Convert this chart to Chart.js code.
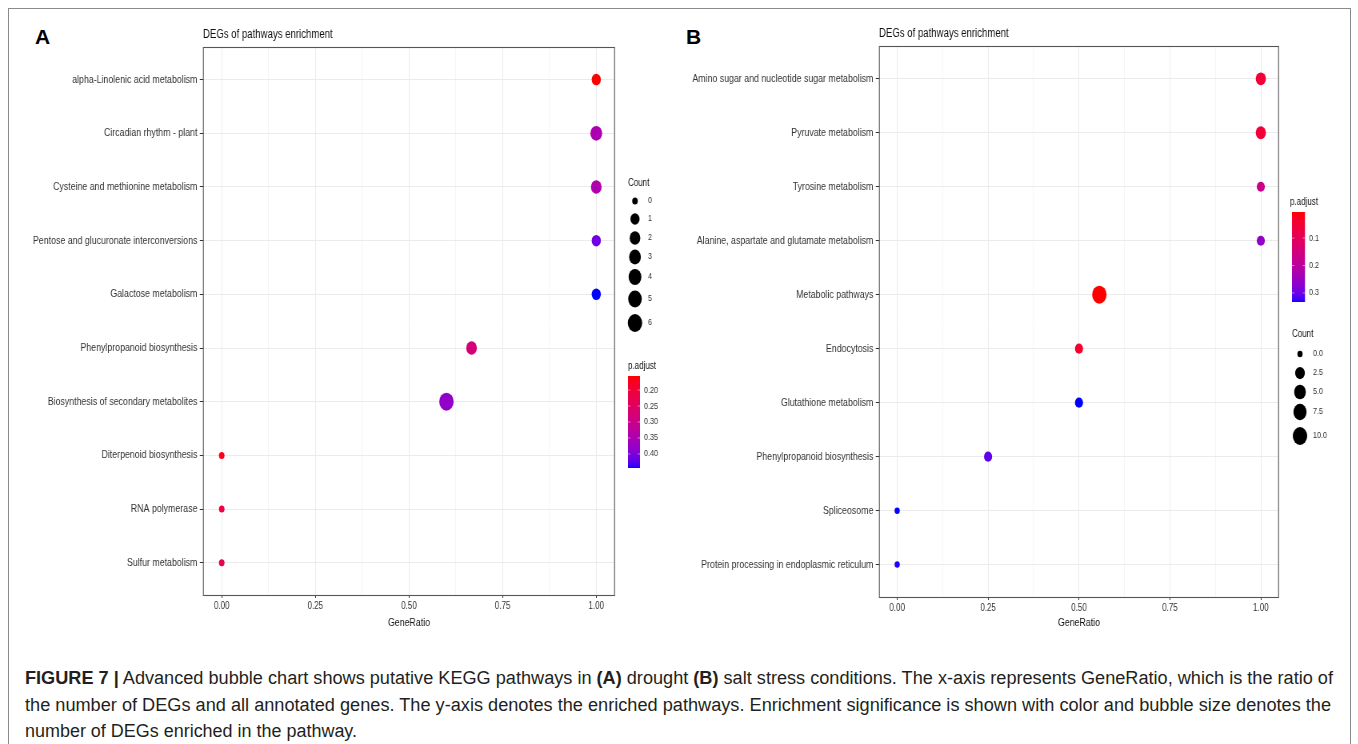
<!DOCTYPE html>
<html><head><meta charset="utf-8">
<script src="https://cdn.jsdelivr.net/npm/chart.js@4"></script>
<style>
html,body{margin:0;padding:0;background:#fff;width:1358px;height:744px;overflow:hidden;position:relative;font-family:'Liberation Sans',Arial,sans-serif}
#frame{position:absolute;left:8px;top:8px;width:1341px;height:800px;border:1px solid #8a8a8a;}
canvas{position:absolute;top:0;transform:scaleX(0.8);transform-origin:0 0}
#cA{left:0}
#cB{left:660px}
.lab{position:absolute;font:bold 21px 'Liberation Sans',Arial,sans-serif;color:#000;line-height:24px}
.cap{position:absolute;left:25px;font-size:18px;line-height:20px;white-space:nowrap;transform-origin:0 50%;color:#231f20}
</style></head>
<body>
<div id="frame"></div>
<div class="lab" style="left:35px;top:25px">A</div>
<div class="lab" style="left:686px;top:25px">B</div>
<canvas id="cA" width="850" height="630"></canvas>
<canvas id="cB" width="873" height="630"></canvas>
<div class="cap" data-w="1308" style="top:668px"><b>FIGURE 7 |</b> Advanced bubble chart shows putative KEGG pathways in <b>(A)</b> drought <b>(B)</b> salt stress conditions. The x-axis represents GeneRatio, which is the ratio of</div>
<div class="cap" data-w="1306" style="top:695px">the number of DEGs and all annotated genes. The y-axis denotes the enriched pathways. Enrichment significance is shown with color and bubble size denotes the</div>
<div class="cap" data-w="332" style="top:721px">number of DEGs enriched in the pathway.</div>
<script>
// ---------- DATA ----------
const catsA = ['alpha-Linolenic acid metabolism','Circadian rhythm - plant','Cysteine and methionine metabolism','Pentose and glucuronate interconversions','Galactose metabolism','Phenylpropanoid biosynthesis','Biosynthesis of secondary metabolites','Diterpenoid biosynthesis','RNA polymerase','Sulfur metabolism'];
const ratioA = [1, 1, 1, 1, 1, 0.667, 0.6, 0, 0, 0];
const countA = [1, 3, 2, 1, 1, 2, 6, 0, 0, 0];
const padjA  = [0.156, 0.349, 0.345, 0.409, 0.444, 0.277, 0.381, 0.170, 0.214, 0.228];
const countBreaksA = [0, 1, 2, 3, 4, 5, 6];
const padjBreaksA  = [0.20, 0.25, 0.30, 0.35, 0.40];

const catsB = ['Amino sugar and nucleotide sugar metabolism','Pyruvate metabolism','Tyrosine metabolism','Alanine, aspartate and glutamate metabolism','Metabolic pathways','Endocytosis','Glutathione metabolism','Phenylpropanoid biosynthesis','Spliceosome','Protein processing in endoplasmic reticulum'];
const ratioB = [1, 1, 1, 1, 0.556, 0.5, 0.5, 0.25, 0, 0];
const countB = [3, 3, 1, 1, 10, 1, 1, 1, 0, 0];
const padjB  = [0.054, 0.054, 0.169, 0.261, 0.005, 0.038, 0.333, 0.307, 0.333, 0.330];
const countBreaksB = [0, 2.5, 5, 7.5, 10];
const padjBreaksB  = [0.1, 0.2, 0.3];

const xTickLabels = ['0.00','0.25','0.50','0.75','1.00'];

// ---------- helpers ----------
const S = 0.8; // horizontal squeeze of the figure
const F = "'Liberation Sans',Arial,sans-serif";
function s2l(c){c/=255;return c<=0.04045?c/12.92:Math.pow((c+0.055)/1.055,2.4);}
function l2s(c){c=Math.max(0,Math.min(1,c));return 255*(c<=0.0031308?12.92*c:1.055*Math.pow(c,1/2.4)-0.055);}
function rgb2lab(rgb){
  const r=s2l(rgb[0]),g=s2l(rgb[1]),b=s2l(rgb[2]);
  const X=(0.4124*r+0.3576*g+0.1805*b)/0.95047,Y=0.2126*r+0.7152*g+0.0722*b,Z=(0.0193*r+0.1192*g+0.9505*b)/1.08883;
  const f=t=>t>0.008856?Math.cbrt(t):7.787*t+16/116;
  const fx=f(X),fy=f(Y),fz=f(Z);
  return [116*fy-16,500*(fx-fy),200*(fy-fz)];
}
function lab2rgb(lab){
  const fy=(lab[0]+16)/116,fx=fy+lab[1]/500,fz=fy-lab[2]/200;
  const fi=t=>t>0.206893?t*t*t:(t-16/116)/7.787;
  const X=fi(fx)*0.95047,Y=fi(fy),Z=fi(fz)*1.08883;
  const r=3.2406*X-1.5372*Y-0.4986*Z,g=-0.9689*X+1.8758*Y+0.0415*Z,b=0.0557*X-0.2040*Y+1.0570*Z;
  return [l2s(r),l2s(g),l2s(b)].map(v=>Math.round(v));
}
const LAB_LO=rgb2lab([255,0,0]), LAB_HI=rgb2lab([0,0,255]);
function colAt(t){t=Math.max(0,Math.min(1,t));const l=LAB_LO.map((v,i)=>v+(LAB_HI[i]-v)*t);const c=lab2rgb(l);return `rgb(${c[0]},${c[1]},${c[2]})`;}
const isMajor=v=>Math.abs(v*4-Math.round(v*4))<1e-6;

function makePanel(id, cats, ratio, count, padj, cfg){
  const pmin=Math.min(...padj), pmax=Math.max(...padj);
  const cmin=Math.min(...count), cmax=Math.max(...count);
  const hOf=c=>cfg.hMin+(cfg.hMax-cfg.hMin)*Math.sqrt((c-cmin)/(cmax-cmin));
  const tOf=p=>(p-pmin)/(pmax-pmin);
  const X=px=>(px-cfg.offset)/S;
  const W=document.getElementById(id).width, H=630;
  const points=cats.map((c,i)=>({x:ratio[i],y:i,r:hOf(count[i])/2}));
  const colors=padj.map(p=>colAt(tOf(p)));
  const extras={
    id:'extras',
    beforeDatasetsDraw(chart){
      const a=chart.chartArea,ctx=chart.ctx;
      ctx.save();ctx.strokeStyle='#555';ctx.lineWidth=1.1;
      ctx.strokeRect(a.left+0.5,Math.round(a.top)+0.5,a.right-a.left-1,Math.round(a.bottom-a.top));
      ctx.restore();
    },
    afterDraw(chart){
      const ctx=chart.ctx;ctx.save();
      ctx.textBaseline='middle';ctx.textAlign='left';
      const L=cfg.count;
      ctx.fillStyle='#111';ctx.font='10px '+F;
      ctx.fillText('Count',X(L.tx),L.ty);
      ctx.font='9px '+F;
      cfg.countBreaks.forEach((b,i)=>{
        ctx.fillStyle='#000';ctx.beginPath();ctx.arc(X(L.dx),L.ys[i],hOf(b)/2,0,Math.PI*2);ctx.fill();
        ctx.fillStyle='#333';ctx.fillText(cfg.countFmt(b),X(L.lx),L.ys[i]);
      });
      const P=cfg.bar;
      ctx.fillStyle='#111';ctx.font='10px '+F;
      ctx.fillText('p.adjust',X(P.tx),P.ty);
      const bx=X(P.x),bw=P.w/S;
      for(let k=0;k<P.h;k++){ctx.fillStyle=colAt((k+0.5)/P.h);ctx.fillRect(bx,P.y+k,bw,1);}
      ctx.font='9px '+F;
      cfg.padjBreaks.forEach(b=>{
        const y=P.y+tOf(b)*P.h;
        ctx.strokeStyle='rgba(255,255,255,0.8)';ctx.lineWidth=0.6;
        ctx.beginPath();ctx.moveTo(bx,y);ctx.lineTo(bx+3,y);ctx.moveTo(bx+bw,y);ctx.lineTo(bx+bw-3,y);ctx.stroke();
        ctx.fillStyle='#333';ctx.fillText(cfg.padjFmt(b),X(P.lx),y);
      });
      ctx.restore();
    }
  };
  return new Chart(document.getElementById(id),{
    type:'bubble',
    data:{datasets:[{data:points,backgroundColor:colors,borderWidth:0,clip:false}]},
    options:{
      responsive:false,animation:false,devicePixelRatio:1,events:[],
      layout:{padding:{left:0,right:W-X(cfg.right),top:0,bottom:0}},
      plugins:{legend:{display:false},tooltip:{enabled:false},
        title:{display:true,text:'DEGs of pathways enrichment',align:'start',fullSize:false,color:'#111',
          font:{size:12,family:F,weight:'normal'},padding:{top:cfg.top-20,bottom:6}}},
      scales:{
        x:{type:'linear',min:-0.05,max:1.05,afterFit:s=>{s.height=H-cfg.bottom;},
          ticks:{stepSize:0.125,includeBounds:false,autoSkip:false,maxRotation:0,padding:2,color:'#333',
            font:{size:10,family:F},callback:v=>isMajor(v)?xTickLabels[Math.round(v*4)]:''},
          grid:{color:c=>isMajor(c.tick.value)?'#EBEBEB':'#F5F5F5',tickColor:c=>isMajor(c.tick.value)?'#333':'rgba(0,0,0,0)',tickLength:3,lineWidth:1},
          border:{display:false},
          title:{display:true,text:'GeneRatio',color:'#111',font:{size:11,family:F},padding:{top:4,bottom:0}}},
        y:{type:'linear',reverse:true,min:-0.6,max:cats.length-0.4,afterFit:s=>{s.width=X(cfg.left);},
          ticks:{stepSize:1,includeBounds:false,autoSkip:false,padding:3,color:'#333',font:{size:11,family:F},callback:v=>cats[v]},
          grid:{color:'#EBEBEB',tickColor:'#333',tickLength:4,lineWidth:1},
          border:{display:false}}
      }
    },
    plugins:[extras]
  });
}

makePanel('cA',catsA,ratioA,countA,padjA,{
  offset:0,left:203,right:615,top:47,bottom:595,hMin:7,hMax:18,
  countBreaks:countBreaksA,padjBreaks:padjBreaksA,
  countFmt:b=>String(b),padjFmt:b=>b.toFixed(2),
  count:{tx:628,ty:183,dx:635,lx:648,ys:[201,219,238,257,277,299,323]},
  bar:{tx:628,ty:366,x:628,y:376,w:12,h:92,lx:644}
});
makePanel('cB',catsB,ratioB,countB,padjB,{
  offset:660,left:879,right:1279,top:46,bottom:597,hMin:6.5,hMax:18,
  countBreaks:countBreaksB,padjBreaks:padjBreaksB,
  countFmt:b=>b.toFixed(1),padjFmt:b=>b.toFixed(1),
  count:{tx:1292,ty:334,dx:1300,lx:1313,ys:[354,373,392,412,436]},
  bar:{tx:1290,ty:202,x:1292,y:212,w:13,h:90,lx:1309}
});

document.querySelectorAll('.cap').forEach(el=>{
  const w=el.getBoundingClientRect().width;
  el.style.transform='scaleX('+(el.dataset.w/w)+')';
});
</script>
</body></html>
